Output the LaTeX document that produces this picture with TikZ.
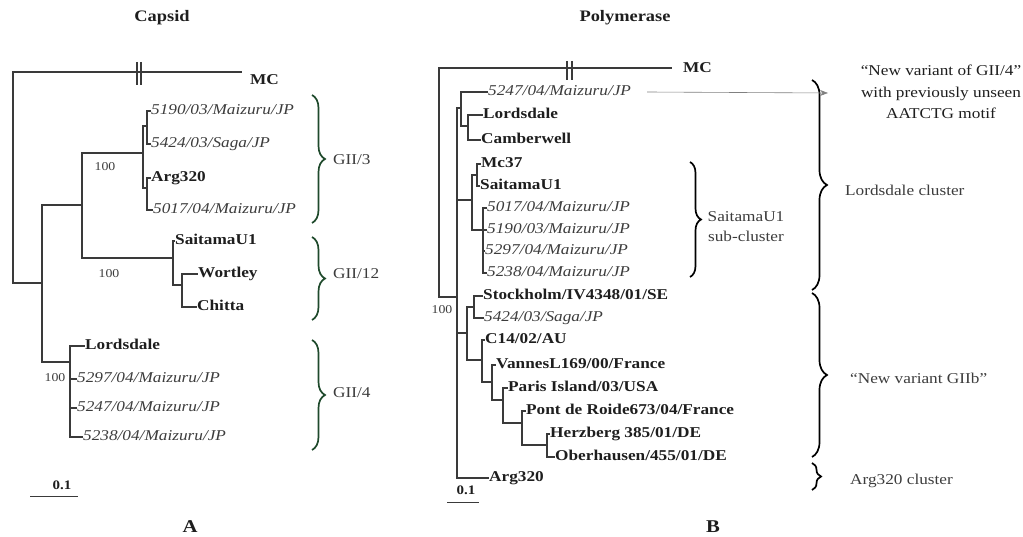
\documentclass[tikz,border=0pt]{standalone}
\usepackage{fontspec}
\setmainfont{Liberation Serif}[FakeStretch=1.15]
\usetikzlibrary{decorations.pathreplacing,arrows.meta}
\definecolor{linec}{HTML}{3A3A3A}
\definecolor{txt}{HTML}{1E1E1E}
\definecolor{bracegreen}{HTML}{1F4A2C}
\definecolor{notec}{HTML}{3C3C3C}
\begin{document}
\begin{tikzpicture}[x=1pt,y=-1pt,
  br/.style={draw=linec, line width=1.1pt},
  leaf/.style={anchor=west, inner sep=0pt, text height=10pt, text depth=3pt, text=txt, font=\fontsize{15}{18}\selectfont},
  leafb/.style={leaf, font=\fontsize{15}{18}\selectfont\bfseries},
  leafi/.style={leaf, text=notec, font=\fontsize{15}{18}\selectfont\itshape},
  boot/.style={inner sep=0pt, text=notec, font=\fontsize{12}{14}\selectfont},
  gbrace/.style={decorate, decoration={brace, amplitude=13pt}, line width=1.7pt, draw=bracegreen},
  kbrace/.style={decorate, decoration={brace, amplitude=15pt}, line width=1.7pt, draw=black},
  note/.style={inner sep=0pt, text=notec, font=\fontsize{15}{18}\selectfont},
  title/.style={inner sep=0pt, text=txt, font=\fontsize{16}{19}\selectfont\bfseries},
]
\useasboundingbox (0,0) rectangle (1023,537);

% ---------------- Titles ----------------
\node[title] (tA) at (162,18) {Capsid};
\node[title] (tB) at (625,18) {Polymerase};
\node[title, font=\fontsize{18}{21}\selectfont\bfseries] (pA) at (190,527) {A};
\node[title, font=\fontsize{18}{21}\selectfont\bfseries] (pB) at (713,527) {B};

% ---------------- Tree A (Capsid) ----------------
\coordinate (rootA) at (13,180);
\coordinate (mcAend) at (242,72);
\coordinate (nA) at (42,283);
\coordinate (nB) at (82,205);
\coordinate (g3) at (143,153);
\coordinate (g3a) at (147,126);
\coordinate (g3b) at (147,188);
\coordinate (g12) at (173,258);
\coordinate (g12b) at (182,285);
\coordinate (g4) at (70,362);

\node[leafb] (lMCA) at (250,81) {MC};
\node[leafi] (l5190A) at (151,111) {5190/03/Maizuru/JP};
\node[leafi] (l5424A) at (151,144) {5424/03/Saga/JP};
\node[leafb] (lArgA) at (151,178) {Arg320};
\node[leafi] (l5017A) at (153,210) {5017/04/Maizuru/JP};
\node[leafb] (lSaitA) at (175,241) {SaitamaU1};
\node[leafb] (lWort) at (198,274) {Wortley};
\node[leafb] (lChit) at (197,307) {Chitta};
\node[leafb] (lLordA) at (85,346) {Lordsdale};
\node[leafi] (l5297A) at (77,379) {5297/04/Maizuru/JP};
\node[leafi] (l5247A) at (77,408) {5247/04/Maizuru/JP};
\node[leafi] (l5238A) at (83,437) {5238/04/Maizuru/JP};

\draw[br] (rootA) |- (mcAend);
\draw[br] (137,62) -- (137,85) (141,62) -- (141,85);
\draw[br] (rootA) |- (nA);
\draw[br] (nA) |- (nB);
\draw[br] (nA) |- (g4);
\draw[br] (nB) |- (g3);
\draw[br] (nB) |- (g12);
\draw[br] (g3) |- (g3a);
\draw[br] (g3) |- (g3b);
\draw[br] (g3a) |- (l5190A.west);
\draw[br] (g3a) |- (l5424A.west);
\draw[br] (g3b) |- (lArgA.west);
\draw[br] (g3b) |- (l5017A.west);
\draw[br] (g12) |- (lSaitA.west);
\draw[br] (g12) |- (g12b);
\draw[br] (g12b) |- (lWort.west);
\draw[br] (g12b) |- (lChit.west);
\draw[br] (g4) |- (lLordA.west);
\draw[br] (g4) |- (l5297A.west);
\draw[br] (g4) |- (l5247A.west);
\draw[br] (g4) |- (l5238A.west);

\node[boot] (bA1) at (105,167) {100};
\node[boot] (bA2) at (109,274) {100};
\node[boot] (bA3) at (55,378) {100};

% brackets A
\draw[gbrace] (312,95) -- (312,223);
\draw[gbrace] (312,237) -- (312,320);
\draw[gbrace] (312,340) -- (312,450);
\node[note, anchor=west] (gii3) at (333,160) {GII/3};
\node[note, anchor=west] (gii12) at (333,274) {GII/12};
\node[note, anchor=west] (gii4) at (333,393) {GII/4};

% scale A
\node[inner sep=0pt, text=txt, font=\fontsize{13}{15}\selectfont\bfseries] (sA) at (62,485) {0.1};
\draw[draw=linec, line width=0.9pt] (30,496) -- (78,496);

% ---------------- Tree B (Polymerase) ----------------
\coordinate (rootB) at (439,183);
\coordinate (mcBend) at (672,68);
\coordinate (n1) at (457,297);
\coordinate (lg) at (461,108);
\coordinate (bb) at (468,126);
\coordinate (sg) at (472,200);
\coordinate (mm) at (477,175);
\coordinate (sub) at (483,230);
\coordinate (g1) at (467,333);
\coordinate (sk) at (474,307);
\coordinate (c1) at (482,360);
\coordinate (vv) at (492,382);
\coordinate (pp) at (503,400);
\coordinate (pr) at (522,423);
\coordinate (hh) at (547,445);

\node[leafb, anchor=west] (lMCB) at (683,69) {MC};
\node[leafi] (l5247B) at (488,92) {5247/04/Maizuru/JP};
\node[leafb] (lLordB) at (483,115) {Lordsdale};
\node[leafb] (lCamb) at (481,140) {Camberwell};
\node[leafb] (lMc37) at (481,164) {Mc37};
\node[leafb] (lSaitB) at (480,186) {SaitamaU1};
\node[leafi] (l5017B) at (487,208) {5017/04/Maizuru/JP};
\node[leafi] (l5190B) at (487,230) {5190/03/Maizuru/JP};
\node[leafi] (l5297B) at (485,251) {5297/04/Maizuru/JP};
\node[leafi] (l5238B) at (487,273) {5238/04/Maizuru/JP};
\node[leafb] (lStock) at (483,296) {Stockholm/IV4348/01/SE};
\node[leafi] (l5424B) at (484,318) {5424/03/Saga/JP};
\node[leafb] (lC14) at (485,340) {C14/02/AU};
\node[leafb] (lVann) at (496,365) {VannesL169/00/France};
\node[leafb] (lParis) at (508,388) {Paris Island/03/USA};
\node[leafb] (lPont) at (526,411) {Pont de Roide673/04/France};
\node[leafb] (lHerz) at (550,434) {Herzberg 385/01/DE};
\node[leafb] (lOber) at (555,457) {Oberhausen/455/01/DE};
\node[leafb] (lArgB) at (489,478) {Arg320};

\draw[br] (rootB) |- (mcBend);
\draw[br] (567,61) -- (567,80) (572,61) -- (572,80);
\draw[br] (rootB) |- (n1);
\draw[br] (n1) |- (lg);
\draw[br] (n1) |- (sg);
\draw[br] (n1) |- (g1);
\draw[br] (n1) |- (lArgB.west);
\draw[br] (lg) |- (l5247B.west);
\draw[br] (lg) |- (bb);
\draw[br] (bb) |- (lLordB.west);
\draw[br] (bb) |- (lCamb.west);
\draw[br] (sg) |- (mm);
\draw[br] (sg) |- (sub);
\draw[br] (mm) |- (lMc37.west);
\draw[br] (mm) |- (lSaitB.west);
\draw[br] (sub) |- (l5017B.west);
\draw[br] (sub) |- (l5190B.west);
\draw[br] (sub) |- (l5297B.west);
\draw[br] (sub) |- (l5238B.west);
\draw[br] (g1) |- (sk);
\draw[br] (g1) |- (c1);
\draw[br] (sk) |- (lStock.west);
\draw[br] (sk) |- (l5424B.west);
\draw[br] (c1) |- (lC14.west);
\draw[br] (c1) |- (vv);
\draw[br] (vv) |- (lVann.west);
\draw[br] (vv) |- (pp);
\draw[br] (pp) |- (lParis.west);
\draw[br] (pp) |- (pr);
\draw[br] (pr) |- (lPont.west);
\draw[br] (pr) |- (hh);
\draw[br] (hh) |- (lHerz.west);
\draw[br] (hh) |- (lOber.west);

\node[boot] (bB1) at (442,310) {100};

% scale B
\node[inner sep=0pt, text=txt, font=\fontsize{13}{15}\selectfont\bfseries] (sB) at (466,490) {0.1};
\draw[draw=linec, line width=0.9pt] (447,502) -- (479,502);

% brackets B
\draw[kbrace, decoration={brace, amplitude=11pt}] (690,162) -- (690,277);
\node[note, align=center, font=\fontsize{15}{20}\selectfont] (saitsub) at (746,227) {SaitamaU1\\sub-cluster};
\draw[kbrace] (812,80) -- (812,290);
\node[note, anchor=west] (lordcl) at (845,190) {Lordsdale cluster};
\draw[kbrace] (812,293) -- (812,457);
\node[note, anchor=west] (giib) at (850,378) {“New variant GIIb”};
\draw[kbrace, decoration={brace, amplitude=9pt}] (812,463) -- (812,490);
\node[note, anchor=west] (argcl) at (850,481) {Arg320 cluster};

% annotation
\coordinate (arrend) at (828,93);
\node[note, align=center, text=txt, font=\fontsize{15}{21.5}\selectfont] (newvar) at (941,92) {“New variant of GII/4”\\with previously unseen\\AATCTG motif};
\draw[draw=gray, line width=0.6pt, -{Stealth[length=8pt,width=6pt]}] ([xshift=16pt]l5247B.east) -- (arrend);
\end{tikzpicture}
\end{document}
